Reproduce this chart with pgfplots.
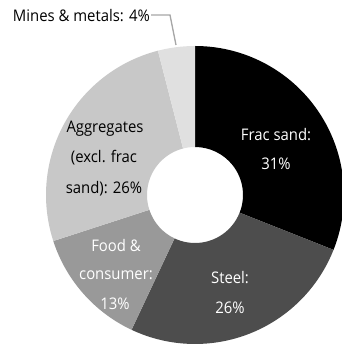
\documentclass[border=0pt]{standalone}
\usepackage{fontspec}
\setmainfont{Open Sans}[FakeStretch=0.93]
\usepackage{pgfplots}
\usepackage{pgfplotstable}
\pgfplotsset{compat=1.18}
\definecolor{cfrac}{HTML}{000000}
\definecolor{csteel}{HTML}{4D4D4D}
\definecolor{cfood}{HTML}{999999}
\definecolor{cagg}{HTML}{C8C8C8}
\definecolor{cmines}{HTML}{E0E0E0}
\definecolor{cleader}{HTML}{A6A6A6}
\pgfplotstableread{
segment value color
Frac 31 cfrac
Steel 26 csteel
Food 13 cfood
Aggregates 26 cagg
Mines 4 cmines
}\slices
\begin{document}
\begin{tikzpicture}
\begin{axis}[
  width=342bp, height=352bp, scale only axis,
  xmin=0, xmax=342, ymin=0, ymax=352,
  enlargelimits=false, hide axis,
]
\pgfplotstablegetrowsof{\slices}
\pgfmathtruncatemacro{\nrows}{\pgfplotsretval-1}
\gdef\acc{90}
\pgfplotsforeachungrouped \i in {0,...,\nrows}{%
  \pgfplotstablegetelem{\i}{value}\of{\slices}\let\v\pgfplotsretval
  \pgfplotstablegetelem{\i}{color}\of{\slices}\let\c\pgfplotsretval
  \pgfmathsetmacro{\aend}{\acc-3.6*\v}%
  \pgfmathsetmacro{\xa}{195+149*cos(\acc)}%
  \pgfmathsetmacro{\ya}{157+149*sin(\acc)}%
  \pgfmathsetmacro{\xb}{195+48*cos(\aend)}%
  \pgfmathsetmacro{\yb}{157+48*sin(\aend)}%
  \edef\temp{\noexpand\fill[\c] (axis cs:\xa,\ya) arc[start angle=\acc,end angle=\aend,radius=149bp] -- (axis cs:\xb,\yb) arc[start angle=\aend,end angle=\acc,radius=48bp] -- cycle;}%
  \temp
  \global\let\acc\aend
}
\addplot[cleader, line width=1.3bp] coordinates {(151,337) (170,337) (176,307)};
\tikzset{lab/.style={anchor=base, inner sep=0pt, font=\fontsize{16bp}{18bp}\selectfont}}
\node[lab, white] at (axis cs:276,211) {Frac sand:};
\node[lab, white] at (axis cs:276,182) {31\%};
\node[lab, white] at (axis cs:230,68) {Steel:};
\node[lab, white] at (axis cs:230,38) {26\%};
\node[lab, white] at (axis cs:116,100) {Food \&};
\node[lab, white] at (axis cs:116,72) {consumer:};
\node[lab, white] at (axis cs:115,42) {13\%};
\node[lab, black] at (axis cs:105,219) {Aggregates};
\node[lab, black] at (axis cs:104,189) {(excl. frac};
\node[lab, black] at (axis cs:104,158) {sand): 26\%};
\node[lab, black, anchor=base east] at (axis cs:150,330) {Mines \& metals: 4\%};
\end{axis}
\pgfresetboundingbox
\useasboundingbox (current axis.south west) rectangle (current axis.north east);
\end{tikzpicture}
\end{document}
